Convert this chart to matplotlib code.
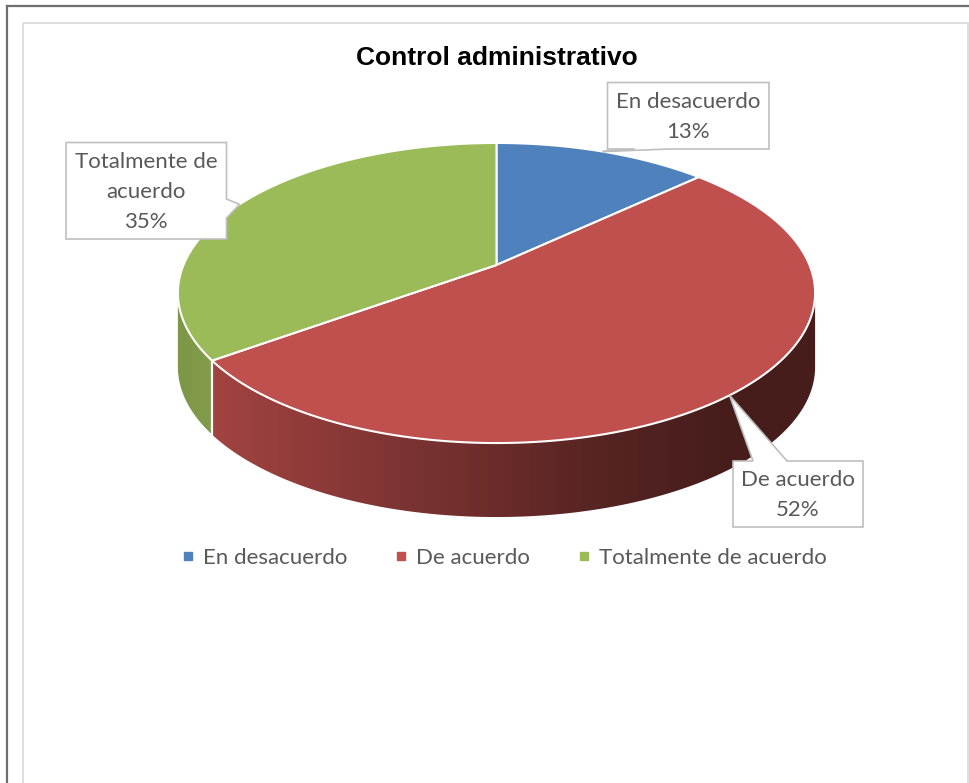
import numpy as np
import matplotlib
matplotlib.use("Agg")
import matplotlib.pyplot as plt
from matplotlib.patches import Polygon
from matplotlib.lines import Line2D

# ---- data ----
categories = ["En desacuerdo", "De acuerdo", "Totalmente de acuerdo"]
values = [13, 52, 35]
label_lines = [["En desacuerdo"], ["De acuerdo"], ["Totalmente de", "acuerdo"]]
top_colors = ["#4F81BD", "#C0504D", "#9BBB59"]
title = "Control administrativo"

# ---- layout (pixel space) ----
W, H = 969, 783
CX, CY = 496.5, 265.0      # pie centre on top face
A, B, K = 313.0, 144.8, 0.1867  # projected radii and perspective factor
DEPTH = 74.0
TEXT_COLOR = "#595959"
FONT = "Lato"

fig = plt.figure(figsize=(W / 100, H / 100), dpi=100)
ax = fig.add_axes([0, 0, 1, 1])
ax.set_xlim(0, W)
ax.set_ylim(H, 0)
ax.axis("off")


def proj(theta_deg):
    t = np.radians(theta_deg)
    s, c = np.sin(t), np.cos(t)
    den = 1 + K * c
    return CX + A * s / den, CY - B * c / den


def arc(t0, t1, n=200):
    th = np.linspace(t0, t1, n)
    x, y = proj(th)
    return np.column_stack([x, y])


def shade(x):
    # lighting factor across the front wall
    xs = [170, 215, 400, 600, 720, 830]
    fs = [0.80, 0.84, 0.65, 0.45, 0.37, 0.37]
    return np.interp(x, xs, fs)


# slice angles, clockwise from the back (12 o'clock)
total = float(sum(values))
bounds = np.concatenate([[0], np.cumsum(values) / total * 360.0])
t_left = 180 + np.degrees(np.arccos(K))   # silhouette tangents
t_right = 360 - t_left

# frame
ax.add_line(Line2D([7.5, 7.5], [H + 5, 5.5], color="#6F6F6F", lw=1.6))
ax.add_line(Line2D([7.5, W + 5], [5.5, 5.5], color="#6F6F6F", lw=1.6))
ax.add_patch(plt.Rectangle((23.5, 22.5), 944.5, H + 10, fill=False,
                           edgecolor="#D9D9D9", lw=1.2))

# front walls
for i in range(len(values)):
    a0 = max(bounds[i], t_right)
    a1 = min(bounds[i + 1], t_left)
    if a1 <= a0:
        continue
    top = arc(a0, a1)
    bot = top[::-1] + np.array([0, DEPTH])
    poly = Polygon(np.vstack([top, bot]), closed=True, facecolor="none",
                   edgecolor="none")
    ax.add_patch(poly)
    x0, x1 = top[:, 0].min() - 2, top[:, 0].max() + 2
    xs = np.linspace(x0, x1, 400)
    base = np.array(matplotlib.colors.to_rgb(top_colors[i]))
    img = (shade(xs)[:, None] * base[None, :])[None, :, :]
    im = ax.imshow(img, extent=(x0, x1, top[:, 1].max() + DEPTH + 2,
                                top[:, 1].min() - 2),
                   aspect="auto", interpolation="bilinear", zorder=1)
    im.set_clip_path(poly)

# white seams on the wall at slice boundaries
for b in bounds[1:-1]:
    if t_right < b < t_left:
        x, y = proj(b)
        ax.add_line(Line2D([x, x], [y, y + DEPTH], color="white", lw=1.6,
                           zorder=2))

# top face
for i in range(len(values)):
    pts = np.vstack([[CX, CY], arc(bounds[i], bounds[i + 1])])
    ax.add_patch(Polygon(pts, closed=True, facecolor=top_colors[i],
                         edgecolor="white", lw=1.5, zorder=3,
                         joinstyle="round"))

# title
ax.text(497, 58, title, ha="center", va="center", fontsize=19,
        fontweight="bold", family="Liberation Sans", color="black")

# callouts: box (left, top, right, bottom), tail side
boxes = [
    ((607.5, 82.5, 769, 149), "bottom", (635, 670)),
    ((733, 461, 863, 527), "top", (753, 787)),
    ((66, 142.5, 226.5, 239), "right", (199, 218)),
]
for i, ((l, t, r, b), side, (s0, s1)) in enumerate(boxes):
    mid = (bounds[i] + bounds[i + 1]) / 2
    tx, ty = proj(mid)
    if side == "bottom":
        pts = [(l, t), (r, t), (r, b), (s1, b), (tx, ty), (s0, b), (l, b)]
    elif side == "top":
        pts = [(l, t), (s0, t), (tx, ty), (s1, t), (r, t), (r, b), (l, b)]
    else:
        pts = [(l, t), (r, t), (r, s0), (tx, ty), (r, s1), (r, b), (l, b)]
    ax.add_patch(Polygon(pts, closed=True, facecolor="white",
                         edgecolor="#BFBFBF", lw=1.2, zorder=5))
    lines = label_lines[i] + [f"{values[i]}%"]
    ax.text((l + r) / 2, (t + b) / 2 + 1, "\n".join(lines), ha="center",
            va="center", fontsize=16, family=FONT, color=TEXT_COLOR,
            linespacing=1.62, zorder=6)

# legend
handles = [Line2D([], [], marker="s", ls="none", markersize=5.2,
                  markerfacecolor=c, markeredgecolor=c) for c in top_colors]
fig.legend(handles, categories, loc="center", ncol=3,
           bbox_to_anchor=(504 / W, 1 - 558 / H), frameon=False,
           prop={"family": FONT, "size": 16}, labelcolor=TEXT_COLOR,
           handlelength=0.6, handletextpad=0.35, columnspacing=2.15)

fig.savefig("out.png", dpi=100)
